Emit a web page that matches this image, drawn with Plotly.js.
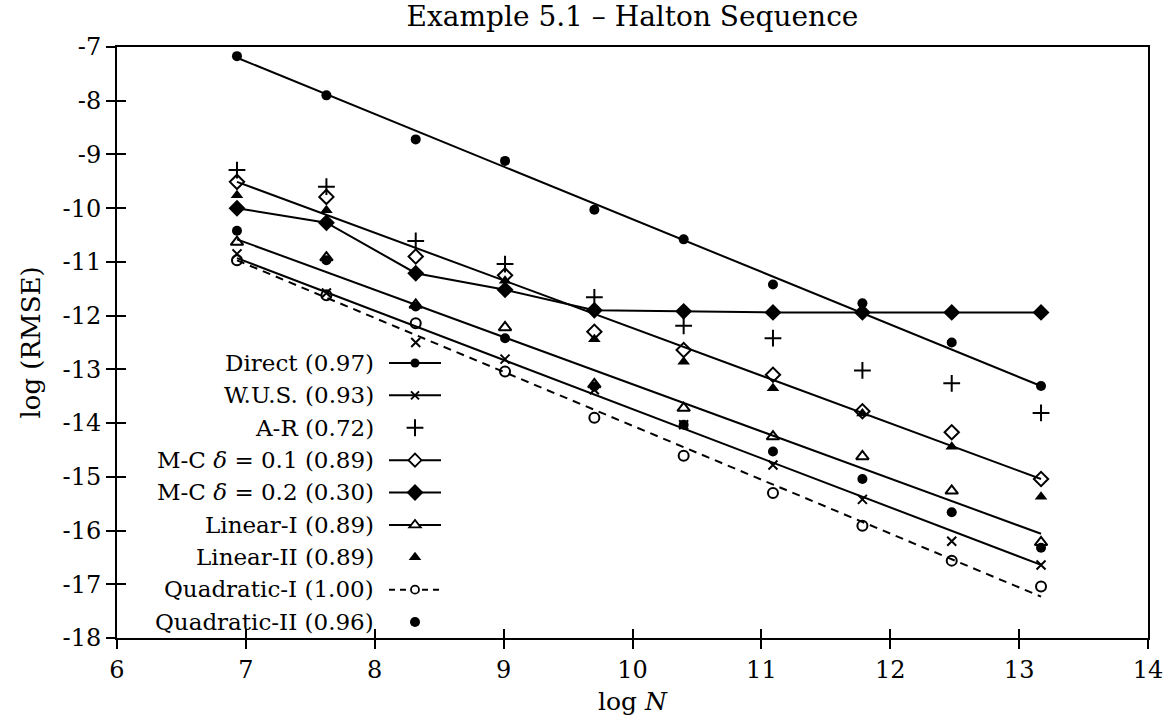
<!DOCTYPE html>
<html><head><meta charset="utf-8">
<script src="https://cdn.plot.ly/plotly-3.0.1.min.js"></script>
<style>html,body{margin:0;padding:0;background:#fff;}#chart{width:1169px;height:719px;}</style>
</head><body><div id="chart"></div>
<script>
// log N for N = 2^10 ... 2^19
const logN = [6.931, 7.625, 8.318, 9.011, 9.704, 10.397, 11.090, 11.784, 12.477, 13.170];

const direct = [-7.17, -7.90, -8.72, -9.12, -10.03, -10.58, -11.42, -11.77, -12.50, -13.31];
const wus    = [-10.85, -11.58, -12.50, -12.81, -13.38, -14.03, -14.78, -15.42, -16.20, -16.64];
const ar     = [-9.29, -9.60, -10.61, -11.04, -11.66, -12.19, -12.42, -13.02, -13.26, -13.81];
const mc01   = [-9.51, -9.79, -10.90, -11.25, -12.30, -12.64, -13.10, -13.78, -14.17, -15.04];
const mc02   = [-10.00, -10.27, -11.21, -11.52, -11.90, -11.92, -11.94, -11.94, -11.94, -11.94];
const lin1   = [-10.63, -10.92, -11.80, -12.22, -13.28, -13.72, -14.25, -14.62, -15.26, -16.22];
const lin2   = [-9.76, -10.04, -11.18, -11.35, -12.44, -12.86, -13.35, -13.82, -14.44, -15.37];
const quad1  = [-10.97, -11.62, -12.14, -13.04, -13.90, -14.61, -15.30, -15.91, -16.56, -17.04];
const quad2  = [-10.42, -10.97, -11.83, -12.42, -13.32, -14.03, -14.53, -15.04, -15.66, -16.32];

// fitted regression lines (end points)
const fitLogN   = [6.931, 13.170];
const directFit = [-7.20, -13.31];
const wusFit    = [-10.93, -16.64];
const mc01Fit   = [-9.51, -15.04];
const lin1Fit   = [-10.58, -16.06];
const quad1Fit  = [-10.97, -17.23];

const legendLabels = [
  'Direct (0.97)', 'W.U.S. (0.93)', 'A-R (0.72)',
  'M-C <i>δ</i> = 0.1 (0.89)', 'M-C <i>δ</i> = 0.2 (0.30)',
  'Linear-I (0.89)', 'Linear-II (0.89)', 'Quadratic-I (1.00)', 'Quadratic-II (0.96)'
];

const xTickVals = [6, 7, 8, 9, 10, 11, 12, 13, 14];
const xTickText = ['6', '7', '8', '9', '10', '11', '12', '13', '14'];
const yTickVals = [-7, -8, -9, -10, -11, -12, -13, -14, -15, -16, -17, -18];
const yTickText = ['-7', '-8', '-9', '-10', '-11', '-12', '-13', '-14', '-15', '-16', '-17', '-18'];

const FONT = 'DejaVu Serif, serif';
const BLK = '#000';
const LW = 2;

function fitLine(y, dash) {
  return {x: fitLogN, y: y, mode: 'lines', showlegend: false, hoverinfo: 'skip',
          line: {color: BLK, width: LW, dash: dash || 'solid'}};
}
function pts(y, symbol, size, open, rank, showleg) {
  return {x: logN, y: y, mode: 'markers', name: '', showlegend: !!showleg, legendrank: rank,
          marker: {symbol: symbol, size: size, color: BLK,
                   line: {color: BLK, width: open ? 2 : 0}}};
}
// legend sample (line + marker); hollow markers get a white fill like the original key
function legendOnly(symbol, size, hollow, rank, dash) {
  return {x: [null], y: [null], xaxis: 'x2', yaxis: 'y2', mode: 'lines+markers', name: '',
          showlegend: true, legendrank: rank, hoverinfo: 'skip',
          line: {color: BLK, width: LW, dash: dash || 'solid'},
          marker: {symbol: symbol, size: size, color: hollow ? '#fff' : BLK,
                   line: {color: BLK, width: hollow ? 1.8 : (symbol.indexOf('open') >= 0 ? 2 : 0)}}};
}

const traces = [
  fitLine(directFit), fitLine(mc01Fit), fitLine(lin1Fit), fitLine(wusFit), fitLine(quad1Fit, '8px,6px'),
  pts(mc01, 'diamond-open', 11, true, 4),
  pts(lin1, 'triangle-up-open', 11, true, 6),
  pts(quad1, 'circle-open', 10, true, 8),
  pts(wus, 'x-thin-open', 9, true, 2),
  pts(ar, 'cross-thin-open', 12, true, 3, true),
  {x: logN, y: mc02, mode: 'lines+markers', name: '', showlegend: true, legendrank: 5,
   line: {color: BLK, width: LW}, marker: {symbol: 'diamond', size: 13, color: BLK}},
  pts(direct, 'circle', 10, false, 1),
  pts(lin2, 'triangle-up', 11, false, 7, true),
  pts(quad2, 'circle', 10, false, 9, true),
  legendOnly('circle', 9, false, 1),
  legendOnly('x-thin-open', 8, false, 2),
  legendOnly('diamond', 10, true, 4),
  legendOnly('triangle-up', 10, true, 6),
  legendOnly('circle', 8, true, 8, '6px,5px')
];

const M = {l: 117, r: 21, t: 47, b: 81};
const W = 1169, H = 719;
const plotH = H - M.t - M.b, plotW = W - M.l - M.r;
const rowTop = 363, rowGap = 32.35, labelRight = 376;

const annotations = legendLabels.map((t, i) => ({
  text: t, xref: 'paper', yref: 'paper', showarrow: false,
  x: (labelRight - M.l) / plotW, xanchor: 'right',
  y: (H - M.b - (rowTop + i * rowGap)) / plotH, yanchor: 'middle',
  font: {family: FONT, size: 23, color: BLK}
}));

const axisCommon = {
  showgrid: false, zeroline: false, showline: true, linecolor: BLK, linewidth: 2,
  mirror: true, ticks: 'outside', ticklen: 9, tickwidth: 2, tickcolor: BLK,
  tickfont: {family: FONT, size: 24, color: BLK}, tickmode: 'array'
};

const layout = {
  width: W, height: H, margin: M,
  paper_bgcolor: '#fff', plot_bgcolor: '#fff',
  showlegend: true,
  title: {text: 'Example 5.1 – Halton Sequence', font: {family: FONT, size: 28, color: BLK},
          x: 0.5, xref: 'paper', y: 1 - 16 / H, yref: 'container', yanchor: 'middle'},
  xaxis: Object.assign({}, axisCommon, {range: [6, 14], tickvals: xTickVals, ticktext: xTickText,
          title: {text: 'log <i>N</i>', font: {family: FONT, size: 25, color: BLK}, standoff: 10}}),
  yaxis: Object.assign({}, axisCommon, {range: [-18, -7], tickvals: yTickVals, ticktext: yTickText,
          title: {text: 'log (RMSE)', font: {family: FONT, size: 26, color: BLK}, standoff: 14}}),
  xaxis2: {overlaying: 'x', anchor: 'y2', range: [6, 14], showgrid: false, zeroline: false,
           showline: false, ticks: 'inside', ticklen: 9, tickwidth: 2, tickcolor: BLK,
           showticklabels: false, tickmode: 'array', tickvals: xTickVals},
  yaxis2: {overlaying: 'y', anchor: 'x2', range: [-18, -7], showgrid: false, zeroline: false,
           showline: false, ticks: 'inside', ticklen: 9, tickwidth: 2, tickcolor: BLK,
           showticklabels: false, tickmode: 'array', tickvals: yTickVals},
  legend: {x: (384 - M.l) / plotW, xanchor: 'left', y: (H - M.b - (rowTop - 21.2)) / plotH, yanchor: 'top',
           bgcolor: 'rgba(0,0,0,0)', borderwidth: 0, font: {family: FONT, size: 22.6, color: BLK},
           itemwidth: 52, traceorder: 'normal', itemclick: false, itemdoubleclick: false},
  annotations: annotations
};

Plotly.newPlot('chart', traces, layout, {displayModeBar: false, staticPlot: true});
</script>
</body></html>
